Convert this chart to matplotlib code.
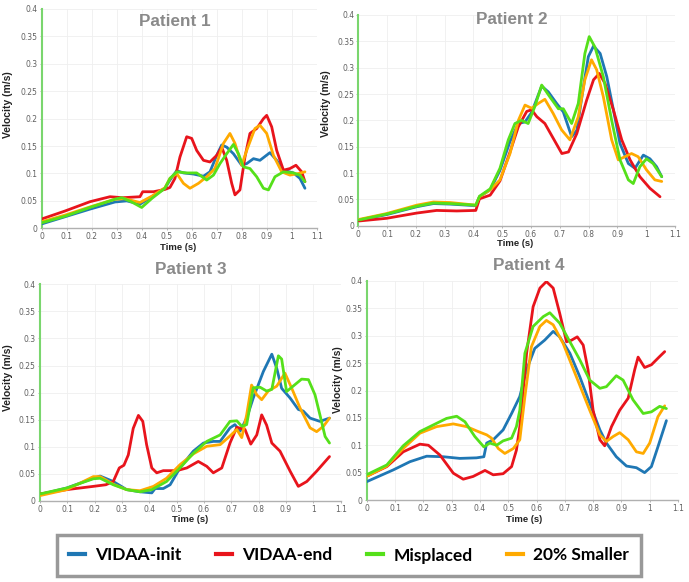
import matplotlib
matplotlib.use("Agg")
import matplotlib.pyplot as plt
from matplotlib.lines import Line2D

# ---- data ----
series_names = ["VIDAA-init", "VIDAA-end", "Misplaced", "20% Smaller"]
series_colors = ["#1f77b4", "#e8141c", "#55e01a", "#ffaa00"]
panel_titles = ["Patient 1", "Patient 2", "Patient 3", "Patient 4"]
x_ticks = [0, 0.1, 0.2, 0.3, 0.4, 0.5, 0.6, 0.7, 0.8, 0.9, 1.0, 1.1]
x_tick_labels = ["0", "0.1", "0.2", "0.3", "0.4", "0.5", "0.6", "0.7", "0.8", "0.9", "1", "1.1"]
y_ticks = [0, 0.05, 0.1, 0.15, 0.2, 0.25, 0.3, 0.35, 0.4]
y_tick_labels = ["0", "0.05", "0.1", "0.15", "0.2", "0.25", "0.3", "0.35", "0.4"]

# Patient 1
p1_t_init = [0, 0.093, 0.193, 0.293, 0.34, 0.393, 0.442, 0.493, 0.513, 0.54, 0.567, 0.607, 0.647, 0.673,
             0.70, 0.72, 0.74, 0.767, 0.80, 0.82, 0.847, 0.873, 0.913, 0.94, 0.967, 1.007, 1.033, 1.053]
p1_v_init = [0.008, 0.021, 0.035, 0.048, 0.050, 0.044, 0.058, 0.073, 0.088, 0.105, 0.101, 0.099, 0.095, 0.103,
             0.133, 0.152, 0.148, 0.136, 0.115, 0.118, 0.127, 0.124, 0.138, 0.124, 0.106, 0.101, 0.091, 0.073]
p1_t_end = [0, 0.093, 0.193, 0.273, 0.324, 0.393, 0.404, 0.447, 0.493, 0.513, 0.533, 0.553, 0.58, 0.60, 0.62,
            0.647, 0.673, 0.70, 0.72, 0.74, 0.76, 0.773, 0.793, 0.813, 0.833, 0.86, 0.887, 0.90, 0.92, 0.94,
            0.967, 0.993, 1.017, 1.04, 1.053]
p1_v_end = [0.017, 0.0315, 0.0485, 0.0576, 0.0558, 0.0576, 0.0667, 0.0667, 0.0709, 0.0745, 0.091, 0.130, 0.167,
            0.164, 0.142, 0.124, 0.121, 0.133, 0.148, 0.124, 0.082, 0.061, 0.070, 0.130, 0.173, 0.182, 0.200,
            0.206, 0.185, 0.142, 0.106, 0.109, 0.115, 0.103, 0.085]
p1_t_mis = [0, 0.093, 0.193, 0.293, 0.32, 0.36, 0.40, 0.442, 0.493, 0.513, 0.54, 0.58, 0.62, 0.66, 0.687, 0.713,
            0.74, 0.767, 0.787, 0.807, 0.833, 0.86, 0.887, 0.907, 0.933, 0.967, 1.007, 1.033, 1.053]
p1_v_mis = [0.010, 0.022, 0.038, 0.053, 0.056, 0.048, 0.038, 0.055, 0.073, 0.091, 0.103, 0.101, 0.101, 0.088,
            0.097, 0.118, 0.136, 0.153, 0.136, 0.112, 0.109, 0.094, 0.073, 0.070, 0.094, 0.103, 0.101, 0.097, 0.085]
p1_t_small = [0, 0.093, 0.193, 0.293, 0.333, 0.393, 0.442, 0.493, 0.513, 0.54, 0.567, 0.593, 0.627, 0.66, 0.693,
              0.727, 0.753, 0.773, 0.80, 0.82, 0.853, 0.873, 0.90, 0.927, 0.96, 0.993, 1.027, 1.053]
p1_v_small = [0.012, 0.024, 0.039, 0.053, 0.054, 0.047, 0.059, 0.074, 0.091, 0.100, 0.082, 0.073, 0.082, 0.094,
              0.109, 0.155, 0.173, 0.155, 0.115, 0.142, 0.182, 0.188, 0.173, 0.133, 0.103, 0.097, 0.100, 0.103]

# Patient 2
p2_t_init = [0.003, 0.098, 0.203, 0.261, 0.319, 0.408, 0.421, 0.458, 0.492, 0.527, 0.556, 0.579, 0.602, 0.637,
             0.660, 0.689, 0.712, 0.741, 0.759, 0.782, 0.799, 0.817, 0.840, 0.863, 0.886, 0.909, 0.938, 0.961,
             0.990, 1.013, 1.036, 1.054]
p2_v_init = [0.011, 0.021, 0.036, 0.042, 0.041, 0.038, 0.055, 0.068, 0.105, 0.160, 0.194, 0.197, 0.215, 0.265,
             0.254, 0.232, 0.216, 0.169, 0.181, 0.264, 0.321, 0.341, 0.327, 0.283, 0.220, 0.156, 0.118, 0.109,
             0.134, 0.127, 0.112, 0.093]
p2_t_end = [0.003, 0.098, 0.203, 0.272, 0.342, 0.408, 0.421, 0.458, 0.492, 0.527, 0.556, 0.585, 0.602, 0.620,
            0.648, 0.677, 0.707, 0.730, 0.759, 0.793, 0.817, 0.837, 0.857, 0.886, 0.915, 0.944, 0.978, 1.013, 1.048]
p2_v_end = [0.009, 0.014, 0.024, 0.029, 0.028, 0.029, 0.051, 0.058, 0.085, 0.140, 0.188, 0.217, 0.220, 0.207,
            0.194, 0.166, 0.137, 0.140, 0.175, 0.238, 0.277, 0.289, 0.270, 0.220, 0.163, 0.125, 0.093, 0.071, 0.055]
p2_t_mis = [0.003, 0.098, 0.203, 0.261, 0.319, 0.408, 0.421, 0.458, 0.492, 0.521, 0.544, 0.567, 0.590, 0.613,
            0.637, 0.666, 0.695, 0.712, 0.741, 0.764, 0.787, 0.802, 0.822, 0.851, 0.880, 0.909, 0.938, 0.955,
            0.978, 1.001, 1.024, 1.054]
p2_v_mis = [0.011, 0.022, 0.037, 0.043, 0.042, 0.039, 0.056, 0.070, 0.109, 0.163, 0.194, 0.200, 0.194, 0.226,
            0.267, 0.244, 0.222, 0.222, 0.194, 0.232, 0.327, 0.359, 0.339, 0.283, 0.200, 0.125, 0.087, 0.080,
            0.112, 0.127, 0.118, 0.093]
p2_t_small = [0.003, 0.098, 0.203, 0.261, 0.319, 0.408, 0.421, 0.458, 0.492, 0.527, 0.556, 0.579, 0.602, 0.625,
              0.648, 0.677, 0.706, 0.735, 0.764, 0.787, 0.810, 0.828, 0.851, 0.880, 0.903, 0.926, 0.949, 0.972,
              1.001, 1.030, 1.054]
p2_v_small = [0.012, 0.023, 0.039, 0.045, 0.044, 0.039, 0.055, 0.068, 0.087, 0.137, 0.200, 0.229, 0.223, 0.232,
              0.240, 0.213, 0.182, 0.163, 0.207, 0.277, 0.315, 0.296, 0.245, 0.163, 0.125, 0.131, 0.137, 0.131,
              0.106, 0.087, 0.084]

# Patient 3
p3_t_init = [0, 0.098, 0.195, 0.220, 0.268, 0.317, 0.366, 0.409, 0.421, 0.451, 0.476, 0.512, 0.561, 0.598,
             0.634, 0.659, 0.695, 0.713, 0.732, 0.756, 0.780, 0.817, 0.848, 0.866, 0.884, 0.915, 0.945, 0.963,
             0.988, 1.024, 1.059]
p3_v_init = [0.012, 0.024, 0.042, 0.046, 0.036, 0.021, 0.017, 0.015, 0.023, 0.023, 0.030, 0.061, 0.092, 0.107,
             0.110, 0.110, 0.135, 0.141, 0.129, 0.153, 0.190, 0.239, 0.271, 0.245, 0.208, 0.190, 0.169, 0.166,
             0.153, 0.147, 0.153]
p3_t_end = [0, 0.098, 0.195, 0.241, 0.268, 0.290, 0.307, 0.323, 0.341, 0.360, 0.376, 0.390, 0.409, 0.427, 0.451,
            0.5, 0.537, 0.579, 0.610, 0.634, 0.665, 0.695, 0.720, 0.750, 0.771, 0.793, 0.811, 0.829, 0.848, 0.878,
            0.915, 0.945, 0.976, 1.012, 1.059]
p3_v_end = [0.013, 0.021, 0.027, 0.030, 0.036, 0.061, 0.066, 0.085, 0.134, 0.158, 0.147, 0.104, 0.061, 0.052,
            0.056, 0.056, 0.061, 0.073, 0.064, 0.052, 0.061, 0.107, 0.136, 0.132, 0.105, 0.122, 0.159, 0.140,
            0.107, 0.092, 0.055, 0.027, 0.036, 0.055, 0.082]
p3_t_mis = [0, 0.098, 0.195, 0.220, 0.268, 0.317, 0.366, 0.409, 0.463, 0.512, 0.561, 0.610, 0.659, 0.695, 0.720,
            0.738, 0.756, 0.780, 0.805, 0.829, 0.848, 0.872, 0.884, 0.902, 0.957, 0.982, 1.006, 1.024, 1.043, 1.059]
p3_v_mis = [0.013, 0.024, 0.041, 0.042, 0.030, 0.021, 0.017, 0.021, 0.036, 0.061, 0.088, 0.110, 0.122, 0.147,
            0.148, 0.138, 0.141, 0.209, 0.210, 0.203, 0.206, 0.268, 0.262, 0.202, 0.225, 0.224, 0.196, 0.159,
            0.119, 0.107]
p3_t_small = [0, 0.098, 0.195, 0.220, 0.268, 0.317, 0.366, 0.415, 0.463, 0.512, 0.561, 0.610, 0.659, 0.695,
              0.720, 0.738, 0.756, 0.774, 0.793, 0.811, 0.835, 0.866, 0.896, 0.921, 0.951, 0.988, 1.012, 1.037, 1.059]
p3_v_small = [0.010, 0.021, 0.045, 0.045, 0.031, 0.021, 0.019, 0.027, 0.042, 0.067, 0.087, 0.101, 0.104, 0.120,
              0.132, 0.117, 0.159, 0.214, 0.196, 0.187, 0.203, 0.212, 0.236, 0.208, 0.172, 0.135, 0.128, 0.138, 0.153]

# Patient 4
p4_t_init = [0, 0.094, 0.153, 0.212, 0.271, 0.329, 0.388, 0.414, 0.424, 0.447, 0.482, 0.512, 0.541, 0.565,
             0.594, 0.629, 0.659, 0.682, 0.718, 0.753, 0.788, 0.824, 0.847, 0.882, 0.918, 0.953, 0.982, 1.006,
             1.029, 1.059]
p4_v_init = [0.0335, 0.055, 0.070, 0.080, 0.079, 0.076, 0.077, 0.079, 0.104, 0.110, 0.128, 0.158, 0.189, 0.238,
             0.277, 0.292, 0.308, 0.298, 0.268, 0.225, 0.177, 0.128, 0.104, 0.079, 0.062, 0.059, 0.050, 0.061,
             0.097, 0.145]
p4_t_end = [0.003, 0.071, 0.129, 0.188, 0.218, 0.259, 0.306, 0.341, 0.376, 0.418, 0.447, 0.482, 0.512, 0.529,
            0.541, 0.565, 0.588, 0.612, 0.635, 0.659, 0.682, 0.706, 0.724, 0.744, 0.765, 0.782, 0.800, 0.824,
            0.841, 0.865, 0.894, 0.924, 0.947, 0.959, 0.982, 1.006, 1.035, 1.053]
p4_v_end = [0.044, 0.061, 0.088, 0.102, 0.100, 0.082, 0.049, 0.038, 0.043, 0.054, 0.046, 0.048, 0.061, 0.091,
            0.134, 0.268, 0.353, 0.387, 0.399, 0.387, 0.341, 0.289, 0.292, 0.298, 0.283, 0.238, 0.164, 0.110,
            0.099, 0.134, 0.164, 0.186, 0.238, 0.261, 0.242, 0.247, 0.262, 0.271]
p4_t_mis = [0.003, 0.071, 0.129, 0.188, 0.235, 0.282, 0.318, 0.347, 0.382, 0.414, 0.435, 0.459, 0.482, 0.512,
            0.529, 0.541, 0.559, 0.588, 0.624, 0.647, 0.682, 0.718, 0.753, 0.788, 0.824, 0.847, 0.882, 0.906,
            0.941, 0.977, 1.006, 1.035, 1.059]
p4_v_mis = [0.047, 0.064, 0.099, 0.125, 0.137, 0.149, 0.153, 0.143, 0.116, 0.097, 0.104, 0.100, 0.108, 0.113,
            0.134, 0.164, 0.268, 0.317, 0.335, 0.342, 0.323, 0.289, 0.256, 0.219, 0.204, 0.207, 0.227, 0.219,
            0.183, 0.158, 0.161, 0.171, 0.167]
p4_t_small = [0.003, 0.071, 0.129, 0.188, 0.247, 0.306, 0.353, 0.394, 0.424, 0.441, 0.465, 0.488, 0.518, 0.541,
              0.559, 0.582, 0.612, 0.635, 0.659, 0.694, 0.741, 0.788, 0.824, 0.847, 0.871, 0.894, 0.924, 0.953,
              0.977, 1.0, 1.029, 1.053]
p4_v_small = [0.044, 0.062, 0.094, 0.122, 0.134, 0.139, 0.134, 0.125, 0.119, 0.113, 0.094, 0.085, 0.094, 0.110,
              0.189, 0.280, 0.317, 0.328, 0.320, 0.286, 0.225, 0.164, 0.119, 0.107, 0.116, 0.123, 0.110, 0.088,
              0.085, 0.104, 0.152, 0.172]

panels = [
    [(p1_t_init, p1_v_init), (p1_t_end, p1_v_end), (p1_t_mis, p1_v_mis), (p1_t_small, p1_v_small)],
    [(p2_t_init, p2_v_init), (p2_t_end, p2_v_end), (p2_t_mis, p2_v_mis), (p2_t_small, p2_v_small)],
    [(p3_t_init, p3_v_init), (p3_t_end, p3_v_end), (p3_t_mis, p3_v_mis), (p3_t_small, p3_v_small)],
    [(p4_t_init, p4_v_init), (p4_t_end, p4_v_end), (p4_t_mis, p4_v_mis), (p4_t_small, p4_v_small)],
]

# ---- layout (pixels in a 689x582 canvas) ----
W, H = 689, 582
boxes = [(41.7, 9, 316.7, 228.3), (358.3, 15, 675, 225.7),
         (40, 284.3, 340.7, 501), (366.7, 281, 678, 500)]
title_pos = [(175, 21), (512, 19), (191, 269), (529, 266)]
ylabel_pos = [(8, 105), (326, 104), (8, 378), (338, 380)]
xlabel_pos = [(178, 248), (515, 243.5), (190, 519), (524, 519)]
draw_order = [0, 1, 3, 2]

fig = plt.figure(figsize=(W / 100, H / 100), dpi=100)

for k in range(4):
    l, t, r, b = boxes[k]
    ax = fig.add_axes([l / W, 1 - b / H, (r - l) / W, (b - t) / H])
    for i in draw_order:
        tt, vv = panels[k][i]
        ax.plot(tt, vv, color=series_colors[i], lw=2.0, solid_joinstyle="round",
                solid_capstyle="round", zorder=3)
    ax.set_xlim(0, 1.1)
    ax.set_ylim(0, 0.4)
    ax.set_xticks(x_ticks)
    ax.set_xticklabels(x_tick_labels)
    ax.set_yticks(y_ticks)
    ax.set_yticklabels(y_tick_labels)
    ax.grid(True, color="#efefef", lw=0.6, zorder=0)
    for s in ["top", "right"]:
        ax.spines[s].set_visible(False)
    ax.spines["left"].set_color("#7ad66e")
    ax.spines["left"].set_linewidth(1.5)
    ax.spines["bottom"].set_color("#b0b0b0")
    ax.spines["bottom"].set_linewidth(1.0)
    ax.tick_params(length=1.5, width=0.6, color="#aaaaaa", labelsize=5.5,
                   labelcolor="#606060", pad=1.5)

    fig.text(title_pos[k][0] / W, 1 - title_pos[k][1] / H, panel_titles[k],
             ha="center", va="center", family="Liberation Sans", weight="bold",
             size=12.3, color="#8a8a8a")
    fig.text(ylabel_pos[k][0] / W, 1 - ylabel_pos[k][1] / H, "Velocity (m/s)",
             ha="center", va="center", rotation=90, family="Liberation Sans",
             weight="bold", size=7.5, color="#222222")
    fig.text(xlabel_pos[k][0] / W, 1 - xlabel_pos[k][1] / H, "Time (s)",
             ha="center", va="center", family="Liberation Sans",
             weight="bold", size=6.8, color="#222222")

handles = [Line2D([], [], color=c, lw=3) for c in series_colors]
leg = fig.legend(handles, series_names, loc="center",
                 bbox_to_anchor=(349 / W, 1 - 555.5 / H), ncol=4, frameon=True,
                 fancybox=False, edgecolor="#808080", handlelength=0.9,
                 handletextpad=0.6, columnspacing=2.0, borderpad=0.7,
                 borderaxespad=0, prop={"family": "Lato", "weight": "bold", "size": 12.5})
leg.get_frame().set_linewidth(2.5)

fig.savefig("out.png", dpi=100)
